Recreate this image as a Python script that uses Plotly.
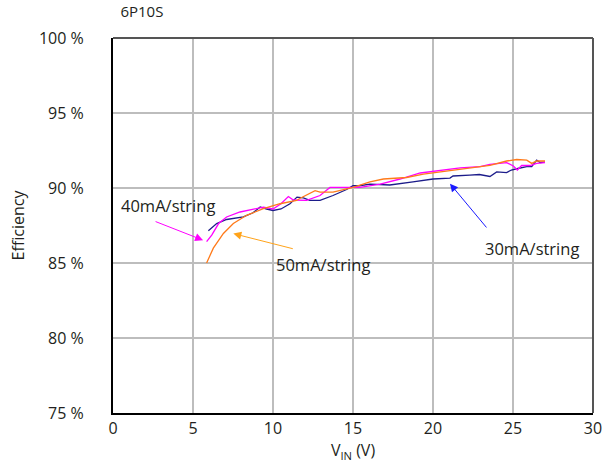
import plotly.graph_objects as go

# 30mA/string (dark blue)
vin_30 = [5.96, 6.48, 7.1, 8.15, 8.75, 9.2, 9.6, 10.0, 10.5, 10.85, 11.06, 11.5, 11.9, 12.3, 12.94,
          13.75, 14.6, 15.0, 15.4, 16.06, 17.3, 18.75, 20.0, 21.06, 21.25, 22.3, 22.9, 23.56, 23.98,
          24.6, 24.9, 25.3, 25.86, 26.17, 26.48, 26.7, 27.0]
eff_30 = [87.15, 87.63, 87.9, 88.07, 88.35, 88.73, 88.6, 88.5, 88.6, 88.84, 88.95, 89.39, 89.34, 89.17, 89.17,
          89.5, 89.9, 90.15, 90.15, 90.26, 90.2, 90.41, 90.6, 90.66, 90.8, 90.86, 90.9, 90.77, 91.07,
          91.03, 91.2, 91.3, 91.43, 91.43, 91.86, 91.7, 91.73]

# 40mA/string (magenta)
vin_40 = [5.85, 6.17, 6.6, 7.1, 7.94, 8.77, 9.4, 10.0, 10.5, 10.96, 11.27, 12.1, 12.94, 13.56, 14.2,
          15.44, 16.7, 17.94, 19.2, 20.44, 21.7, 22.94, 23.56, 24.6, 25.02, 25.27, 25.54, 26.06, 26.48, 27.0]
eff_40 = [86.43, 86.86, 87.63, 88.07, 88.4, 88.57, 88.73, 88.6, 88.95, 89.43, 89.2, 89.17, 89.5, 90.04, 90.04,
          90.04, 90.26, 90.6, 91.0, 91.18, 91.34, 91.43, 91.58, 91.69, 91.47, 91.2, 91.5, 91.5, 91.64, 91.69]

# 50mA/string (orange)
vin_50 = [5.85, 6.27, 6.9, 7.52, 8.35, 9.4, 10.44, 11.48, 11.7, 12.63, 12.94, 13.75, 15.0, 16.06, 16.9,
          18.35, 19.4, 20.65, 22.1, 22.94, 23.56, 24.6, 25.23, 25.86, 26.17, 26.48, 27.0]
eff_50 = [85.0, 85.99, 86.97, 87.63, 88.18, 88.62, 88.95, 89.17, 89.32, 89.82, 89.72, 89.72, 90.04, 90.41, 90.6,
          90.7, 90.92, 91.1, 91.3, 91.4, 91.51, 91.8, 91.9, 91.86, 91.64, 91.8, 91.8]

x_ticks = [0, 5, 10, 15, 20, 25, 30]
y_ticks = [75, 80, 85, 90, 95, 100]
y_tick_text = ["75 %", "80 %", "85 %", "90 %", "95 %", "100 %"]

FONT = "Open Sans"
TXT = "#231f20"
fig = go.Figure()
fig.add_trace(go.Scatter(x=vin_30, y=eff_30, mode="lines", line=dict(color="#1c1c8a", width=1.3),
                         name="30mA/string", showlegend=False))
fig.add_trace(go.Scatter(x=vin_40, y=eff_40, mode="lines", line=dict(color="#ff00ff", width=1.3),
                         name="40mA/string", showlegend=False))
fig.add_trace(go.Scatter(x=vin_50, y=eff_50, mode="lines", line=dict(color="#ff7a1a", width=1.3),
                         name="50mA/string", showlegend=False))

# Labels
fig.add_annotation(x=3.44, y=88.85, text="40mA/string", showarrow=False,
                   font=dict(size=16.5, color=TXT, family=FONT))
fig.add_annotation(x=13.1, y=84.92, text="50mA/string", showarrow=False,
                   font=dict(size=16.5, color=TXT, family=FONT))
fig.add_annotation(x=26.2, y=85.98, text="30mA/string", showarrow=False,
                   font=dict(size=16.5, color=TXT, family=FONT))
# Arrows
fig.add_annotation(x=5.63, y=86.52, ax=-51, ay=-20, text=" ", showarrow=True,
                   arrowhead=2, arrowsize=1.6, arrowwidth=1, arrowcolor="#ff00ff")
fig.add_annotation(x=7.52, y=86.96, ax=63, ay=16, text=" ", showarrow=True,
                   arrowhead=2, arrowsize=1.6, arrowwidth=1, arrowcolor="#ffa31a")
fig.add_annotation(x=21.06, y=90.29, ax=40, ay=48, text=" ", showarrow=True,
                   arrowhead=2, arrowsize=1.6, arrowwidth=1, arrowcolor="#1a1aff")

# frame: top and right dark gray
fig.add_shape(type="line", xref="paper", yref="paper", x0=0, x1=1, y0=1, y1=1,
              line=dict(color="#555555", width=2))
fig.add_shape(type="line", xref="paper", yref="paper", x0=1, x1=1, y0=0, y1=1,
              line=dict(color="#555555", width=2))

fig.update_layout(
    width=602, height=464,
    margin=dict(l=113, r=9, t=38, b=51),
    paper_bgcolor="white", plot_bgcolor="white",
    font=dict(family=FONT, size=16, color=TXT),
    title=dict(text="6P10S", x=0.2, xanchor="left", y=0.985, yanchor="top",
               font=dict(size=15, family=FONT, color=TXT)),
    xaxis=dict(range=[0, 30], tickvals=x_ticks, showgrid=True, gridcolor="#bdbdbd", gridwidth=1.5,
               showline=True, linecolor="black", linewidth=2, zeroline=False, ticks="",
               automargin=False, ticklabeloverflow="allow",
               title=dict(text="V<sub>IN</sub> (V)", standoff=2, font=dict(size=16)),
               tickfont=dict(size=16)),
    yaxis=dict(range=[75, 100], tickvals=y_ticks, ticktext=y_tick_text, showgrid=True, gridcolor="#bdbdbd",
               gridwidth=1.5, showline=True, linecolor="black", linewidth=2, zeroline=False, ticks="",
               automargin=False, ticklabeloverflow="allow",
               ticklabelstandoff=24, title=dict(text="Efficiency", standoff=10, font=dict(size=16)),
               tickfont=dict(size=16)),
)

fig.write_html("out.html", config={"displayModeBar": False},
               post_script="document.body.style.margin='0';")
